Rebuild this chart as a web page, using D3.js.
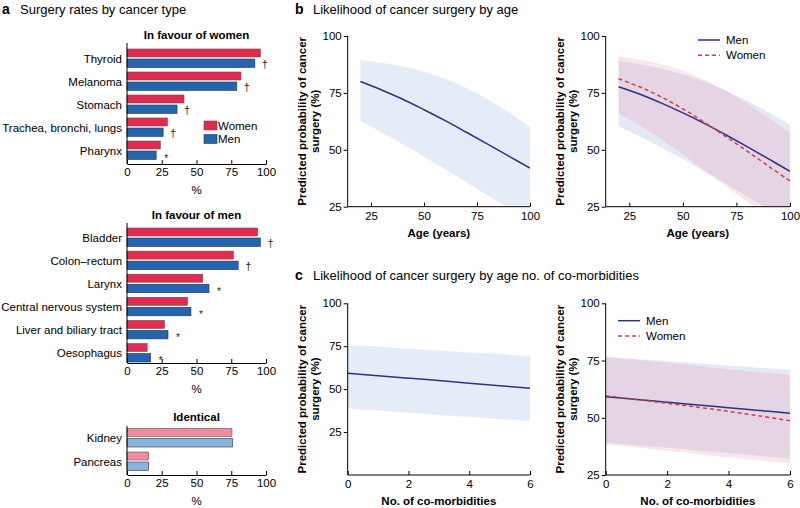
<!DOCTYPE html>
<html><head><meta charset="utf-8">
<script src="https://cdn.jsdelivr.net/npm/d3@7"></script>
<style>body{margin:0;background:#fff}svg{font-family:"Liberation Sans",Arial,sans-serif}</style>
</head><body>
<svg id="c" width="800" height="508"></svg>
<script>
// ---------- DATA ----------
const womenFavCats = ["Thyroid","Melanoma","Stomach","Trachea, bronchi, lungs","Pharynx"];
const womenFavWomen = [96,82,41,29,24];
const womenFavMen = [92,79,36,26,21];
const womenFavSig = ["†","†","†","†","*"];

const menFavCats = ["Bladder","Colon–rectum","Larynx","Central nervous system","Liver and biliary tract","Oesophagus"];
const menFavWomen = [94,76.5,54.5,43.5,27,14.5];
const menFavMen = [96,80,59,46,29.5,17];
const menFavSig = ["†","†","*","*","*","*"];

const identCats = ["Kidney","Pancreas"];
const identWomen = [75.5,15.5];
const identMen = [76,15.5];

const pctTicks = [0,25,50,75,100];

const ageGrid = [20,30,40,50,60,70,80,90,100];
const bAllFit = [80,76.3,72.2,67.6,62.8,57.7,52.5,47.2,42];
const bAllUp  = [89.5,88.2,86.6,84.4,81.2,77.1,72.1,66.4,60];
const bAllLo  = [62.5,57.6,52.4,47,41.4,35.7,29.9,24.3,19];
const bMenFit = [77.7,74.4,70.5,66.2,61.6,56.6,51.4,46,40.5];
const bMenUp  = [89,87.6,85.6,83.1,80,76.1,71.6,66.5,61];
const bMenLo  = [60.5,55.9,51,46,40.6,35.1,29.5,24,18.5];
const bWomFit = [81.2,77.6,73.2,68,62.1,55.8,49.4,42.8,36.3];
const bWomUp  = [91,89.6,87.6,84.7,80.8,76,70.2,64,57.4];
const bWomLo  = [66,60.6,54.6,48,41,34,27.2,21,15];
const ageTicks = [25,50,75,100];

const comGrid = [0,1,2,3,4,5,6];
const cAllFit = [59.2,57.8,56.4,55,53.5,52,50.5];
const cAllUp  = [75.7,74.7,73.6,72.5,71.4,70.4,69.3];
const cAllLo  = [38.8,37.5,36.2,35,33.8,32.6,31.4];
const cMenFit = [59.2,58,56.8,55.6,54.4,53.2,52];
const cMenUp  = [76.7,75.7,74.8,73.8,72.8,71.9,70.9];
const cMenLo  = [39.1,38,36.9,35.7,34.5,33.4,32.3];
const cWomFit = [59.6,58,56.3,54.6,52.8,50.8,48.7];
const cWomUp  = [76.5,75.3,74,72.6,71.2,70,68.7];
const cWomLo  = [38.5,37,35.6,34.1,32.6,31.3,30.1];
const comTicks = [0,2,4,6];
const probTicks = [25,50,75,100];

// ---------- STYLE ----------
const WOMEN = "#e52a50", MEN = "#2365b0", WOMEN_L = "#f28ba0", MEN_L = "#88b3dc";
const NAVY = "#2e3182", RED = "#d23c4a";
const svg = d3.select("#c");

function heading(letter, text, x, y){
  svg.append("text").attr("x",x).attr("y",y).attr("font-size",14).attr("font-weight","bold").text(letter);
  svg.append("text").attr("x",x+18).attr("y",y).attr("font-size",13).text(text);
}
heading("a","Surgery rates by cancer type",2,14);
heading("b","Likelihood of cancer surgery by age",295,14);
heading("c","Likelihood of cancer surgery by age no. of co-morbidities",295,280);

// ---------- BAR PANELS ----------
const bx = d3.scaleLinear().domain([0,100]).range([127,266]);
function barPanel(cfg){
  const {cats, women, men, sig, title, titleY, top, bottom, c0, c1, light} = cfg;
  const g = svg.append("g");
  const yc = d3.scalePoint().domain(cats).range([c0,c1]);
  g.append("text").attr("x",196.5).attr("y",titleY).attr("text-anchor","middle")
    .attr("font-size",11.5).attr("font-weight","bold").text(title);
  cats.forEach((c,i)=>{
    const cy = yc(c);
    g.append("rect").attr("x",bx(0)).attr("y",cy-9.5).attr("width",bx(women[i])-bx(0)).attr("height",8)
      .attr("fill",light?WOMEN_L:WOMEN).attr("stroke","#555").attr("stroke-width",0.6);
    g.append("rect").attr("x",bx(0)).attr("y",cy+0.5).attr("width",bx(men[i])-bx(0)).attr("height",8.5)
      .attr("fill",light?MEN_L:MEN).attr("stroke","#333").attr("stroke-width",0.6);
    g.append("text").attr("x",122).attr("y",cy+4).attr("text-anchor","end").attr("font-size",11.5).text(c);
    if(sig){
      g.append("text").attr("x",bx(men[i])+10).attr("y",cy+(sig[i]==="*"?11:9)).attr("text-anchor","middle")
        .attr("font-size",sig[i]==="*"?10:11).attr("fill","#222").text(sig[i]);
    }
  });
  const ax = g.append("g").attr("transform",`translate(0,${bottom})`)
    .call(d3.axisBottom(bx).tickValues(pctTicks).tickSizeInner(-4).tickSizeOuter(0).tickPadding(4));
  ax.select(".domain").attr("stroke","#000");
  ax.selectAll("text").attr("font-size",11.5).attr("font-family",null);
  g.append("line").attr("x1",bx(0)).attr("x2",bx(0)).attr("y1",top).attr("y2",bottom).attr("stroke","#000");
  g.append("text").attr("x",196.5).attr("y",bottom+30).attr("text-anchor","middle").attr("font-size",11.5).text("%");
}
barPanel({cats:womenFavCats,women:womenFavWomen,men:womenFavMen,sig:womenFavSig,title:"In favour of women",titleY:39,top:43,bottom:164,c0:58.5,c1:150.5});
barPanel({cats:menFavCats,women:menFavWomen,men:menFavMen,sig:menFavSig,title:"In favour of men",titleY:219,top:223,bottom:363,c0:237.5,c1:353});
barPanel({cats:identCats,women:identWomen,men:identMen,title:"Identical",titleY:421,top:426,bottom:475,c0:438,c1:461.5,light:true});

svg.append("rect").attr("x",204).attr("y",121).attr("width",13).attr("height",9).attr("fill",WOMEN).attr("stroke","#555").attr("stroke-width",0.6);
svg.append("text").attr("x",218).attr("y",129.5).attr("font-size",11.5).text("Women");
svg.append("rect").attr("x",204).attr("y",134.5).attr("width",13).attr("height",9).attr("fill",MEN).attr("stroke","#333").attr("stroke-width",0.6);
svg.append("text").attr("x",218).attr("y",143).attr("font-size",11.5).text("Men");

// ---------- LINE PANELS ----------
let clipId = 0;
function linePanel(cfg){
  const {xDom, xr, yDom, yr, xTicks, yTicks, xTitle, xTitleY, grid, series, legend} = cfg;
  const x = d3.scaleLinear().domain(xDom).range(xr);
  const y = d3.scaleLinear().domain(yDom).range(yr);
  const g = svg.append("g");
  const id = "clip"+(clipId++);
  svg.append("clipPath").attr("id",id).append("rect")
    .attr("x",xr[0]).attr("y",yr[1]).attr("width",xr[1]-xr[0]).attr("height",yr[0]-yr[1]);
  const plot = g.append("g").attr("clip-path",`url(#${id})`);
  const area = d3.area().x((d,i)=>x(grid[i])).y0(d=>y(d[0])).y1(d=>y(d[1])).curve(d3.curveCatmullRom);
  const line = d3.line().x((d,i)=>x(grid[i])).y(d=>y(d)).curve(d3.curveCatmullRom);
  series.forEach(s=>{
    plot.append("path").datum(s.lo.map((v,i)=>[v,s.up[i]])).attr("d",area)
      .attr("fill",s.band).attr("fill-opacity",s.bandOp);
  });
  series.forEach(s=>{
    plot.append("path").datum(s.fit).attr("d",line).attr("fill","none")
      .attr("stroke",s.color).attr("stroke-width",1.5).attr("stroke-dasharray",s.dash||null);
  });
  const ax = g.append("g").attr("transform",`translate(0,${yr[0]})`)
    .call(d3.axisBottom(x).tickValues(xTicks).tickFormat(d3.format("d")).tickSizeInner(-4).tickSizeOuter(0).tickPadding(5));
  ax.selectAll("text").attr("font-size",11.5).attr("font-family",null);
  const ay = g.append("g").attr("transform",`translate(${xr[0]},0)`)
    .call(d3.axisLeft(y).tickValues(yTicks).tickFormat(d3.format("d")).tickSizeInner(4).tickSizeOuter(0).tickPadding(2));
  ay.selectAll("text").attr("font-size",11.5).attr("font-family",null);
  ay.select(".domain").remove(); ax.select(".domain").remove();
  g.append("line").attr("x1",xr[0]).attr("x2",xr[0]).attr("y1",yr[1]).attr("y2",yr[0]).attr("stroke","#000");
  g.append("line").attr("x1",xr[0]).attr("x2",xr[1]).attr("y1",yr[0]).attr("y2",yr[0]).attr("stroke","#000");
  g.append("text").attr("x",(xr[0]+xr[1])/2).attr("y",xTitleY).attr("text-anchor","middle")
    .attr("font-size",11.5).attr("font-weight","bold").text(xTitle);
  const yc = (yr[0]+yr[1])/2;
  const lines = ["Predicted probability of cancer","surgery (%)"];
  lines.forEach((t,i)=>{
    g.append("text").attr("transform",`translate(${xr[0]-46+i*13.3},${yc}) rotate(-90)`)
      .attr("text-anchor","middle").attr("dominant-baseline","central")
      .attr("font-size",11.5).attr("font-weight","bold").text(t);
  });
  if(legend){
    series.forEach((s,i)=>{
      const ly = legend.y + i*15.3;
      g.append("line").attr("x1",legend.x).attr("x2",legend.x+22).attr("y1",ly).attr("y2",ly)
        .attr("stroke",s.color).attr("stroke-width",1.5).attr("stroke-dasharray",s.dash||null);
      g.append("text").attr("x",legend.x+28).attr("y",ly+4).attr("font-size",11.5).text(s.name);
    });
  }
}
const bandAll = {band:"#d6e3f2",bandOp:0.65};
linePanel({xDom:[14,100],xr:[347.7,530],yDom:[25,100],yr:[206.7,36],xTicks:ageTicks,yTicks:probTicks,
  xTitle:"Age (years)",xTitleY:237,grid:ageGrid,
  series:[{name:"Men",fit:bAllFit,up:bAllUp,lo:bAllLo,color:NAVY,...bandAll}]});
linePanel({xDom:[14,100],xr:[605.7,790],yDom:[25,100],yr:[206.7,36],xTicks:ageTicks,yTicks:probTicks,
  xTitle:"Age (years)",xTitleY:237,grid:ageGrid,legend:{x:698,y:40},
  series:[{name:"Men",fit:bMenFit,up:bMenUp,lo:bMenLo,color:NAVY,band:"#6e82c8",bandOp:0.18},
          {name:"Women",fit:bWomFit,up:bWomUp,lo:bWomLo,color:RED,dash:"4,3",band:"#e6869a",bandOp:0.2}]});
linePanel({xDom:[0,6],xr:[347.7,530],yDom:[0,100],yr:[475,303.3],xTicks:comTicks,yTicks:probTicks,
  xTitle:"No. of co-morbidities",xTitleY:505,grid:comGrid,
  series:[{name:"Men",fit:cAllFit,up:cAllUp,lo:cAllLo,color:NAVY,...bandAll}]});
linePanel({xDom:[0,6],xr:[605.7,790],yDom:[25,100],yr:[475,303.3],xTicks:comTicks,yTicks:probTicks,
  xTitle:"No. of co-morbidities",xTitleY:505,grid:comGrid,legend:{x:618,y:320.7},
  series:[{name:"Men",fit:cMenFit,up:cMenUp,lo:cMenLo,color:NAVY,band:"#6e82c8",bandOp:0.18},
          {name:"Women",fit:cWomFit,up:cWomUp,lo:cWomLo,color:RED,dash:"4,3",band:"#e6869a",bandOp:0.2}]});
</script>
</body></html>
